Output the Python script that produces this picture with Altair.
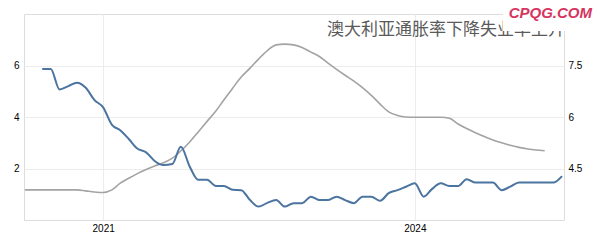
import altair as alt
import pandas as pd

# Unemployment (right axis), monthly from 2020-06
unemp_start = "2020-06-01"
unemp = [7.4, 7.4, 6.8, 6.9, 7.0, 6.85, 6.5, 6.28, 5.77, 5.62, 5.36, 5.08, 4.97, 4.72, 4.6, 4.63,
         5.13, 4.56, 4.17, 4.17, 3.99, 3.99, 3.88, 3.87, 3.58, 3.39, 3.5, 3.58, 3.39, 3.49, 3.49,
         3.68, 3.58, 3.58, 3.68, 3.58, 3.49, 3.68, 3.68, 3.56, 3.78, 3.87, 3.97, 4.07, 3.68, 3.9,
         4.07, 3.99, 3.99, 4.19, 4.09, 4.09, 4.09, 3.87, 3.97, 4.09, 4.09, 4.09, 4.09, 4.09, 4.28]

# Inflation (left axis), monthly from 2020-04
infl_start = "2020-04-01"
infl = [1.17, 1.17, 1.17, 1.17, 1.17, 1.17, 1.17, 1.13, 1.09, 1.07, 1.17, 1.42, 1.62, 1.8, 1.96,
        2.1, 2.22, 2.4, 2.68, 3.03, 3.42, 3.83, 4.23, 4.66, 5.12, 5.55, 5.9, 6.25, 6.58, 6.8, 6.83,
        6.8, 6.7, 6.52, 6.34, 6.1, 5.85, 5.62, 5.39, 5.14, 4.84, 4.5, 4.2, 4.06, 4.0, 3.99, 3.99,
        3.99, 3.99, 3.95, 3.73, 3.55, 3.39, 3.24, 3.11, 3.0, 2.9, 2.82, 2.76, 2.72, 2.69]

left_ticks = [2, 4, 6]
right_ticks = [4.5, 6, 7.5]
title_text = "澳大利亚通胀率下降失业率上升"
watermark = "CPQG.COM"

df_u = pd.DataFrame({"date": pd.date_range(unemp_start, periods=len(unemp), freq="MS"), "unemp": unemp})
df_i = pd.DataFrame({"date": pd.date_range(infl_start, periods=len(infl), freq="MS"), "infl": infl})

xscale = alt.Scale(domain=[alt.DateTime(year=2020, month=3, date=29),
                           alt.DateTime(year=2025, month=6, date=8)], nice=False)
xaxis = alt.Axis(values=[alt.DateTime(year=2021, month=1, date=1), alt.DateTime(year=2024, month=1, date=1)],
                 format="%Y", title=None, ticks=False, domain=False, labelPadding=3,
                 grid=True, gridColor="#ececec")

gray = alt.Chart(df_i).mark_line(color="#a3a3a3", strokeWidth=1.6, interpolate="monotone").encode(
    x=alt.X("date:T", scale=xscale, axis=xaxis),
    y=alt.Y("infl:Q", scale=alt.Scale(domain=[0, 8], nice=False, zero=False),
            axis=alt.Axis(values=left_ticks, format="d", title=None, ticks=False, domain=False,
                          labelPadding=5, grid=True, gridColor="#ececec", orient="left")),
)

blue = alt.Chart(df_u).mark_line(color="#4b74a0", strokeWidth=2, interpolate="monotone").encode(
    x=alt.X("date:T", scale=xscale),
    y=alt.Y("unemp:Q", scale=alt.Scale(domain=[3, 9], nice=False, zero=False),
            axis=alt.Axis(values=right_ticks, format=".1~f", title=None, ticks=False, domain=False,
                          labelPadding=4, grid=False, orient="right")),
)

one = pd.DataFrame({"t": [title_text], "w": [watermark]})

title = alt.Chart(one).mark_text(align="right", baseline="middle", fontSize=17,
                                 font="Noto Sans CJK SC", color="#5a5a5a").encode(
    text="t:N", x=alt.value(541), y=alt.value(16))

cover = alt.Chart(one).mark_rect(color="white").encode(
    x=alt.value(479), x2=alt.value(546), y=alt.value(-14), y2=alt.value(17))

wm = alt.Chart(one).mark_text(align="right", baseline="middle", fontSize=15, fontWeight="bold",
                              fontStyle="italic", font="Liberation Sans", color="#d63560").encode(
    text="w:N", x=alt.value(568), y=alt.value(-1))

chart = alt.layer(gray, blue, title, cover, wm).resolve_scale(y="independent").properties(
    width=540, height=206,
    autosize=alt.AutoSizeParams(type="none"),
    padding={"left": 24, "top": 14, "right": 37, "bottom": 22},
).configure_view(stroke="#e6e6e6").configure_axis(
    labelFont="Liberation Sans", labelFontSize=11, labelColor="#555555"
).configure(background="white")

chart.save("out.html", embed_options={"renderer": "svg", "actions": False})
